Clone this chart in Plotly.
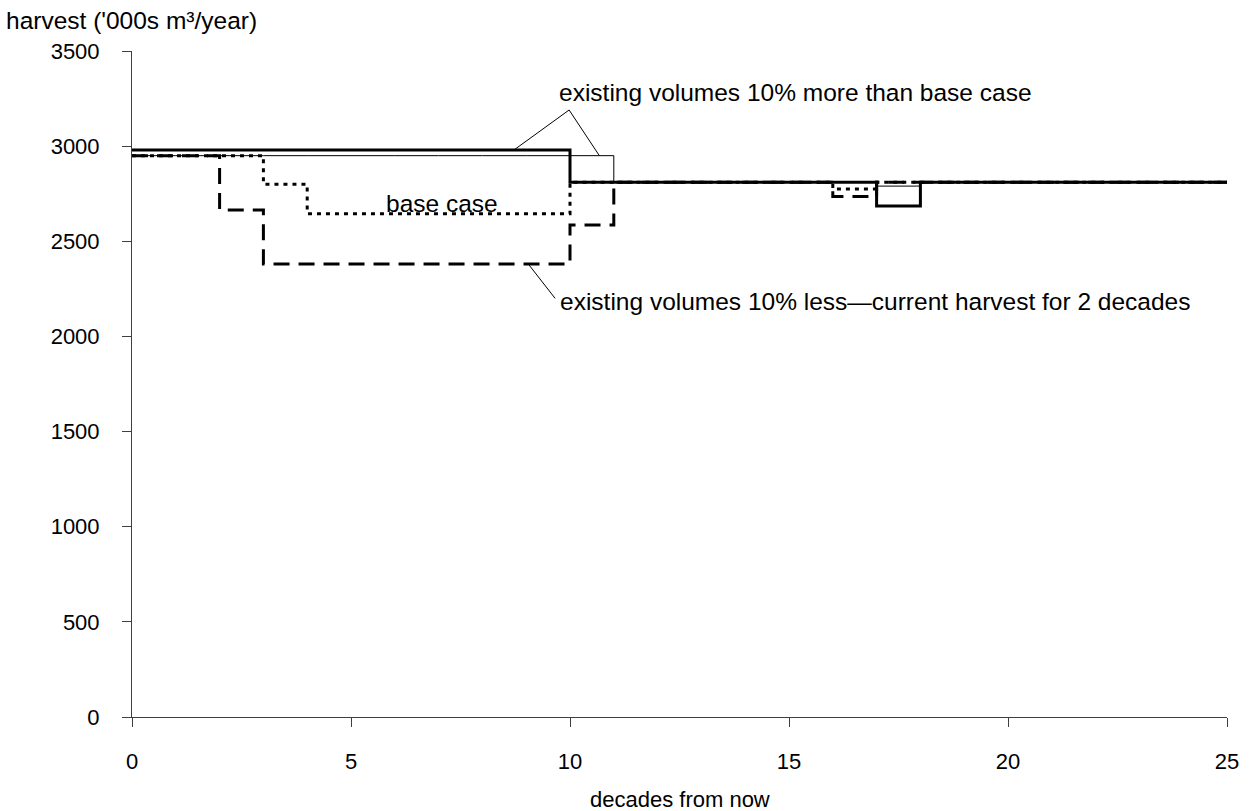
import plotly.graph_objects as go

# Decade start points (0..24) plus the closing edge at 25
decades = list(range(0, 26))

# Harvest per decade ('000s m3/year); last value repeats to close the step at 25
more_thick = [2980] * 10 + [2810] * 7 + [2685] + [2810] * 7 + [2810]
more_thin = [2950] * 11 + [2810] * 6 + [2790] + [2810] * 7 + [2810]
base_case = [2950] * 3 + [2800] + [2645] * 6 + [2810] * 6 + [2775] + [2810] * 8 + [2810]
less_current = [2950] * 2 + [2665] + [2380] * 7 + [2585] + [2810] * 5 + [2735] + [2810] * 8 + [2810]

y_ticks = [0, 500, 1000, 1500, 2000, 2500, 3000, 3500]
x_ticks = [0, 5, 10, 15, 20, 25]

FONT = "Liberation Sans, Arial, sans-serif"

fig = go.Figure()

fig.add_trace(go.Scatter(x=decades, y=more_thin, mode="lines", line_shape="hv",
                         line=dict(color="black", width=1), hoverinfo="skip"))
fig.add_trace(go.Scatter(x=decades, y=base_case, mode="lines", line_shape="hv",
                         line=dict(color="black", width=3, dash="4px,5px"), hoverinfo="skip"))
fig.add_trace(go.Scatter(x=decades, y=less_current, mode="lines", line_shape="hv",
                         line=dict(color="black", width=3, dash="16px,9px"), hoverinfo="skip"))
fig.add_trace(go.Scatter(x=decades, y=more_thick, mode="lines", line_shape="hv",
                         line=dict(color="black", width=3), hoverinfo="skip"))

# Leader lines from labels to the curves
leaders = [
    ((9.98, 3190), (8.74, 2983)),
    ((9.98, 3190), (10.67, 2950)),
    ((9.66, 2200), (9.05, 2380)),
]
for (x0, y0), (x1, y1) in leaders:
    fig.add_shape(type="line", xref="x", yref="y", x0=x0, y0=y0, x1=x1, y1=y1,
                  line=dict(color="black", width=1))

label_font = dict(family=FONT, size=24.5, color="black")
fig.add_annotation(x=9.7, y=3280, xref="x", yref="y", text="existing volumes 10% more than base case",
                   showarrow=False, xanchor="left", yanchor="middle", font=label_font)
fig.add_annotation(x=7.07, y=2701, xref="x", yref="y", text="base case",
                   showarrow=False, xanchor="center", yanchor="middle", font=label_font)
fig.add_annotation(x=9.73, y=2185, xref="x", yref="y",
                   text="existing volumes 10% less\u2014current harvest for 2 decades",
                   showarrow=False, xanchor="left", yanchor="middle", font=label_font)

# Axis titles
fig.add_annotation(x=0, y=1, xref="paper", yref="paper", text="harvest ('000s m\u00b3/year)",
                   showarrow=False, xanchor="left", yanchor="middle", xshift=-128, yshift=31,
                   font=label_font)
fig.add_annotation(x=0.5, y=0, xref="paper", yref="paper", text="decades from now",
                   showarrow=False, xanchor="center", yanchor="middle", yshift=-82,
                   font=dict(family=FONT, size=22, color="black"))

fig.update_layout(
    width=1251, height=811,
    margin=dict(l=132, r=19, t=51, b=94),
    paper_bgcolor="white", plot_bgcolor="white",
    showlegend=False,
    font=dict(family=FONT, size=22, color="black"),
)
fig.update_xaxes(range=[0, 25], tickvals=x_ticks, showgrid=False, zeroline=False,
                 showline=True, linecolor="#404040", linewidth=1,
                 ticks="outside", ticklen=9, tickcolor="#404040", tickwidth=1,
                 ticklabelstandoff=16, tickfont=dict(family=FONT, size=22, color="black"))
fig.update_yaxes(range=[0, 3500], tickvals=y_ticks, showgrid=False, zeroline=False,
                 showline=True, linecolor="#404040", linewidth=1,
                 ticks="outside", ticklen=9, tickcolor="#404040", tickwidth=1,
                 ticklabelstandoff=18, tickfont=dict(family=FONT, size=22, color="black"))

fig.write_html("out.html")
